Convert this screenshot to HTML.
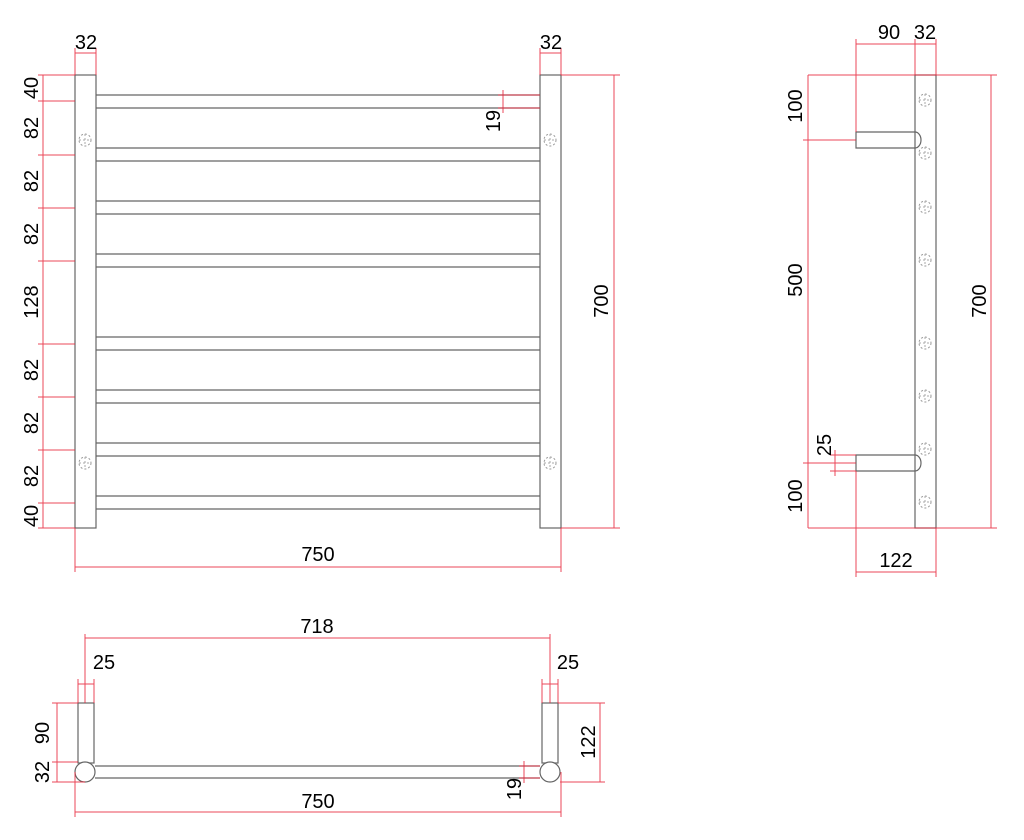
<!DOCTYPE html>
<html><head><style>body{margin:0;background:#fff}svg{display:block}text{font-family:"Liberation Sans",sans-serif;font-size:20px;fill:#000}</style></head><body>
<svg width="1024" height="840" viewBox="0 0 1024 840">
<defs>
<g id="h"><circle r="6" fill="none" stroke="#999" stroke-width="1" stroke-dasharray="2,2"/><line x1="-6" y1="0" x2="6" y2="0" stroke="#aaa" stroke-dasharray="2,2"/><line x1="0" y1="-6" x2="0" y2="6" stroke="#aaa" stroke-dasharray="2,2"/></g>
</defs>
<g fill="none" stroke="#666" stroke-width="1.2">
<rect x="75" y="75" width="21" height="453"/>
<rect x="540" y="75" width="21" height="453"/>
<path d="M96 95H540M96 108H540M96 148H540M96 161H540M96 201H540M96 214H540M96 254H540M96 267H540M96 337H540M96 350H540M96 390H540M96 403H540M96 443H540M96 456H540M96 496H540M96 509H540"/>
<rect x="915" y="75" width="21" height="453"/>
<path d="M915 132H856V148H915A6 8 0 0 0 915 132"/>
<path d="M915 455H856V471H915A6 8 0 0 0 915 455"/>
<rect x="78" y="703" width="16" height="60"/>
<rect x="542" y="703" width="16" height="60"/>
<path d="M95 766H540M95 778H540"/>
<circle cx="85" cy="772" r="10" fill="#fff"/>
<circle cx="550" cy="772" r="10" fill="#fff"/>
</g>
<use href="#h" x="85" y="140"/><use href="#h" x="85" y="463"/><use href="#h" x="550" y="140"/><use href="#h" x="550" y="463"/>
<use href="#h" x="925" y="100"/><use href="#h" x="925" y="153"/><use href="#h" x="925" y="207"/><use href="#h" x="925" y="260"/><use href="#h" x="925" y="343"/><use href="#h" x="925" y="396"/><use href="#h" x="925" y="449"/><use href="#h" x="925" y="502"/>
<g fill="none" stroke="#e8283c" stroke-width="1" opacity="0.85">
<path d="M75 53H96M75 48V75M96 48V75M540 53H561M540 48V75M561 48V75"/>
<path d="M43 75V528M38 75H75M38 101H75M38 155H75M38 208H75M38 261H75M38 344H75M38 397H75M38 450H75M38 503H75M38 528H75"/>
<path d="M561 75H620M614 75V528M561 528H620"/>
<path d="M75 528V572M561 528V572M75 567H561"/>
<path d="M498 95H540M498 108H540M503 90V113"/>
<path d="M856 44H936M856 39V132M915 39V75M936 39V75"/>
<path d="M808 75H997M991 75V528M808 528H997M808 75V528M803 140H856M803 463H856"/>
<path d="M830 455H856M830 471H856M835 450V476"/>
<path d="M856 471V577M936 528V577M856 572H936"/>
<path d="M85 634V703M550 634V703M85 638H550"/>
<path d="M78 684H94M78 679V703M94 679V703M542 684H558M542 679V703M558 679V703"/>
<path d="M52 703H78M52 762H78M52 782H85M57 703V782"/>
<path d="M75 772V817M561 772V817M75 812H561"/>
<path d="M558 703H605M560 782H605M600 703V782"/>
<path d="M519 766H540M519 778H540M524 761V783"/>
</g>
<g text-anchor="middle">
<text x="86" y="49">32</text><text x="551" y="49">32</text>
<text transform="translate(38,88) rotate(-90)">40</text>
<text transform="translate(38,128) rotate(-90)">82</text>
<text transform="translate(38,181) rotate(-90)">82</text>
<text transform="translate(38,234) rotate(-90)">82</text>
<text transform="translate(38,302) rotate(-90)">128</text>
<text transform="translate(38,370) rotate(-90)">82</text>
<text transform="translate(38,423) rotate(-90)">82</text>
<text transform="translate(38,476) rotate(-90)">82</text>
<text transform="translate(38,516) rotate(-90)">40</text>
<text transform="translate(608,301) rotate(-90)">700</text>
<text transform="translate(500,121) rotate(-90)">19</text>
<text x="318" y="561">750</text>
<text x="889" y="39">90</text><text x="925" y="39">32</text>
<text transform="translate(802,106) rotate(-90)">100</text>
<text transform="translate(802,280) rotate(-90)">500</text>
<text transform="translate(831,445) rotate(-90)">25</text>
<text transform="translate(802,496) rotate(-90)">100</text>
<text transform="translate(986,301) rotate(-90)">700</text>
<text x="896" y="567">122</text>
<text x="317" y="633">718</text>
<text x="104" y="669">25</text><text x="568" y="669">25</text>
<text transform="translate(49,733) rotate(-90)">90</text>
<text transform="translate(49,772) rotate(-90)">32</text>
<text transform="translate(595,742) rotate(-90)">122</text>
<text transform="translate(521,789) rotate(-90)">19</text>
<text x="318" y="808">750</text>
</g>
</svg>
</body></html>
